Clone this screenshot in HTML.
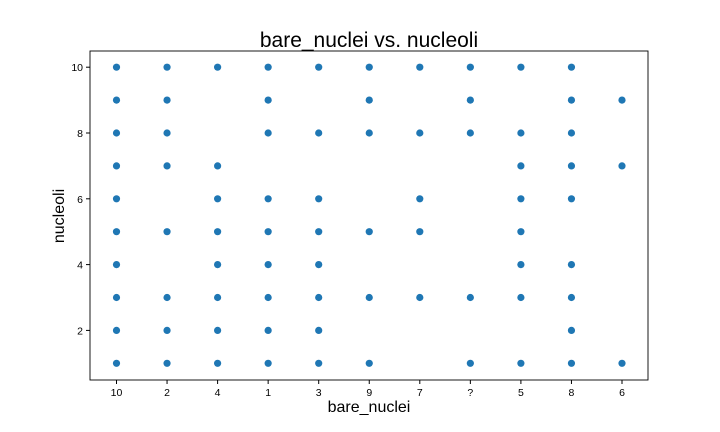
<!DOCTYPE html>
<html><head><meta charset="utf-8"><style>
body{margin:0;background:#fff;}
svg{display:block;font-family:"Liberation Sans","DejaVu Sans",sans-serif;}
</style></head><body>
<svg id="chart" width="720" height="432">
<text x="369" y="47" font-size="21" text-anchor="middle">bare_nuclei vs. nucleoli</text>
<text x="369" y="412" font-size="16" text-anchor="middle">bare_nuclei</text>
<text x="0" y="0" font-size="16" text-anchor="middle" transform="translate(64,216) rotate(-90)">nucleoli</text>
<g id="marks"></g>
<g id="axes"></g>
</svg>
<script>
const categories = ["10","2","4","1","3","9","7","?","5","8","6"];
const nucleoliByCategory = [
  [1,2,3,4,5,6,7,8,9,10],
  [1,2,3,5,7,8,9,10],
  [1,2,3,4,5,6,7,10],
  [1,2,3,4,5,6,8,9,10],
  [1,2,3,4,5,6,8,10],
  [1,3,5,8,9,10],
  [3,5,6,8,10],
  [1,3,8,9,10],
  [1,3,4,5,6,7,8,10],
  [1,2,3,4,6,7,8,9,10],
  [1,7,9]
];
const yTicks = [2,4,6,8,10];
const L=90,R=648,T=51,B=380;
function xScale(i){return 116.5+i*50.55;}
function yScale(v){return 363.3-(v-1)*32.9;}
const NS="http://www.w3.org/2000/svg";
const marks=document.getElementById('marks');
const axes=document.getElementById('axes');
categories.forEach((c,i)=>{
  nucleoliByCategory[i].forEach(v=>{
    const p=document.createElementNS(NS,'circle');
    p.setAttribute('cx',xScale(i));p.setAttribute('cy',yScale(v));p.setAttribute('r',3.6);
    p.setAttribute('fill','#1f77b4');
    
    
    marks.appendChild(p);
  });
  const t=document.createElementNS(NS,'line');
  t.setAttribute('x1',xScale(i));t.setAttribute('x2',xScale(i));t.setAttribute('y1',B);t.setAttribute('y2',B+4);
  t.setAttribute('stroke','#000');
  
  
  axes.appendChild(t);
  const l=document.createElementNS(NS,'text');
  l.setAttribute('x',xScale(i));l.setAttribute('y',B+16);l.setAttribute('font-size','10.5');l.setAttribute('text-anchor','middle');
  l.textContent=c;
  
  
  axes.appendChild(l);
});
yTicks.forEach(v=>{
  const t=document.createElementNS(NS,'line');
  t.setAttribute('x1',L-4);t.setAttribute('x2',L);t.setAttribute('y1',yScale(v));t.setAttribute('y2',yScale(v));
  t.setAttribute('stroke','#000');
  
  
  axes.appendChild(t);
  const l=document.createElementNS(NS,'text');
  l.setAttribute('x',L-7);l.setAttribute('y',yScale(v)+4);l.setAttribute('font-size','10.5');l.setAttribute('text-anchor','end');
  l.textContent=v;
  
  
  axes.appendChild(l);
});
const fr=document.createElementNS(NS,'rect');
fr.setAttribute('x',L);fr.setAttribute('y',T);fr.setAttribute('width',R-L);fr.setAttribute('height',B-T);
fr.setAttribute('fill','none');fr.setAttribute('stroke','#000');fr.setAttribute('stroke-width','0.9');


axes.appendChild(fr);
</script>
</body></html>
